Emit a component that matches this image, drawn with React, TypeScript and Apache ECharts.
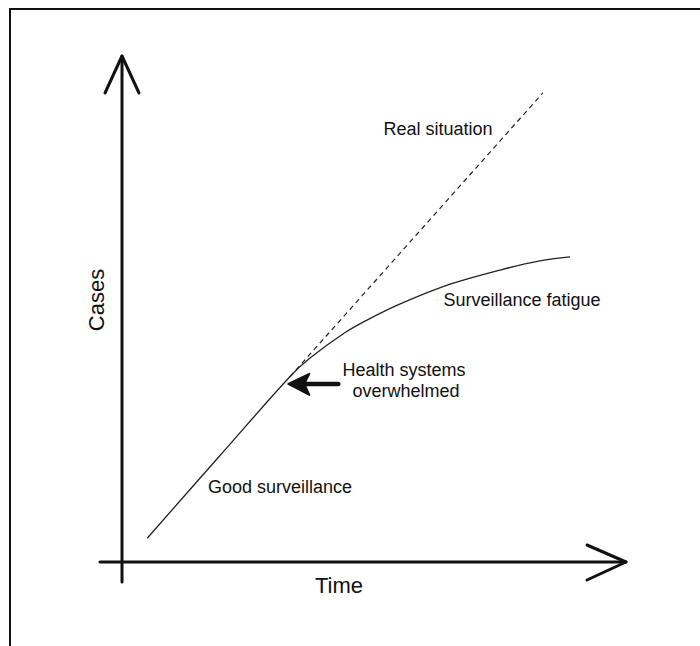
import React, { useEffect, useRef } from "react";
import * as echarts from "echarts";

// Solid curve: observed cases (good surveillance -> surveillance fatigue)
const observedTime = [5.0, 19.4, 33.3, 37.3, 44.2, 48.6, 55.2, 65.1, 75.0, 82.9, 88.9];
const observedCases = [4.7, 21.0, 36.6, 40.3, 45.3, 47.8, 51.0, 54.9, 57.7, 59.5, 60.3];

// Dashed line: real situation
const realTime = [33.3, 83.5];
const realCases = [36.6, 92.7];

// Annotation texts
const labelTexts = ["Real situation", "Surveillance fatigue", "Health systems", "overwhelmed", "Good surveillance"];
const axisNames = ["Time", "Cases"];

const FONT = "'Liberation Sans', Arial, Helvetica, sans-serif";
const INK = "#111";

export default function App() {
  const ref = useRef<HTMLDivElement>(null);

  useEffect(() => {
    if (!ref.current) return;
    const chart = echarts.init(ref.current, null, { renderer: "svg" });

    const observed = observedTime.map((t, i) => [t, observedCases[i]]);
    const real = realTime.map((t, i) => [t, realCases[i]]);

    const option: any = {
      animation: false,
      backgroundColor: "#fff",
      grid: { left: 122, right: 74, top: 56, bottom: 84 },
      xAxis: { type: "value", min: 0, max: 100, show: false },
      yAxis: { type: "value", min: 0, max: 100, show: false },
      series: [
        {
          type: "custom",
          clip: false,
          silent: true,
          data: [[0, 0]],
          renderItem: (params: any, api: any) => {
            const o = api.coord([0, 0]);
            const yTip = api.coord([0, 100]);
            const xTip = api.coord([100, 0]);
            const yBottom = o[1] + 20;
            const xLeft = o[0] - 22;
            const axisStyle = { stroke: INK, lineWidth: 3, fill: null, lineCap: "round", lineJoin: "round" };
            // health-system arrow anchored at the curve
            const hp = api.coord([32.4, 35.2]);
            const tipX = hp[0] + 3;
            const tipY = hp[1];
            return {
              type: "group",
              children: [
                { type: "line", shape: { x1: o[0], y1: yBottom, x2: yTip[0], y2: yTip[1] }, style: axisStyle },
                { type: "polyline", shape: { points: [[yTip[0] - 17, yTip[1] + 37], yTip, [yTip[0] + 17, yTip[1] + 37]] }, style: axisStyle },
                { type: "line", shape: { x1: xLeft, y1: o[1], x2: xTip[0], y2: xTip[1] }, style: axisStyle },
                { type: "polyline", shape: { points: [[xTip[0] - 39, xTip[1] - 17], xTip, [xTip[0] - 39, xTip[1] + 18]] }, style: axisStyle },
                { type: "line", shape: { x1: tipX + 12, y1: tipY, x2: tipX + 50, y2: tipY }, style: { stroke: INK, lineWidth: 4.5, lineCap: "round" } },
                {
                  type: "polygon",
                  shape: { points: [[tipX, tipY], [tipX + 21, tipY - 10], [tipX + 16, tipY], [tipX + 21, tipY + 11]] },
                  style: { fill: INK, stroke: INK, lineWidth: 2, lineJoin: "round" },
                },
              ],
            };
          },
          z: 5,
        },
        {
          type: "line",
          data: real,
          showSymbol: false,
          lineStyle: { color: "#222", width: 1.2, type: [5, 4] },
          z: 3,
        },
        {
          type: "line",
          data: observed,
          smooth: 0.35,
          showSymbol: false,
          lineStyle: { color: "#222", width: 1.3 },
          z: 4,
        },
      ],
      graphic: [
        { type: "rect", shape: { x: 10, y: 9, width: 760, height: 720 }, style: { fill: null, stroke: INK, lineWidth: 2 }, silent: true },
        { type: "text", x: 438, y: 129, style: { text: labelTexts[0], font: `18px ${FONT}`, fill: INK, textAlign: "center", textVerticalAlign: "middle" } },
        { type: "text", x: 522, y: 300, style: { text: labelTexts[1], font: `18px ${FONT}`, fill: INK, textAlign: "center", textVerticalAlign: "middle" } },
        { type: "text", x: 404, y: 370, style: { text: labelTexts[2], font: `18px ${FONT}`, fill: INK, textAlign: "center", textVerticalAlign: "middle" } },
        { type: "text", x: 406, y: 391, style: { text: labelTexts[3], font: `18px ${FONT}`, fill: INK, textAlign: "center", textVerticalAlign: "middle" } },
        { type: "text", x: 280, y: 487, style: { text: labelTexts[4], font: `18px ${FONT}`, fill: INK, textAlign: "center", textVerticalAlign: "middle" } },
        { type: "text", x: 339, y: 585, style: { text: axisNames[0], font: `22px ${FONT}`, fill: INK, textAlign: "center", textVerticalAlign: "middle" } },
        { type: "text", x: 96, y: 300, rotation: Math.PI / 2, style: { text: axisNames[1], font: `22px ${FONT}`, fill: INK, textAlign: "center", textVerticalAlign: "middle" } },
      ],
    };

    chart.setOption(option);
    return () => chart.dispose();
  }, []);

  return (
    <div
      ref={ref}
      style={{ position: "absolute", left: 0, top: 0, width: 700, height: 646, background: "#fff" }}
    />
  );
}
